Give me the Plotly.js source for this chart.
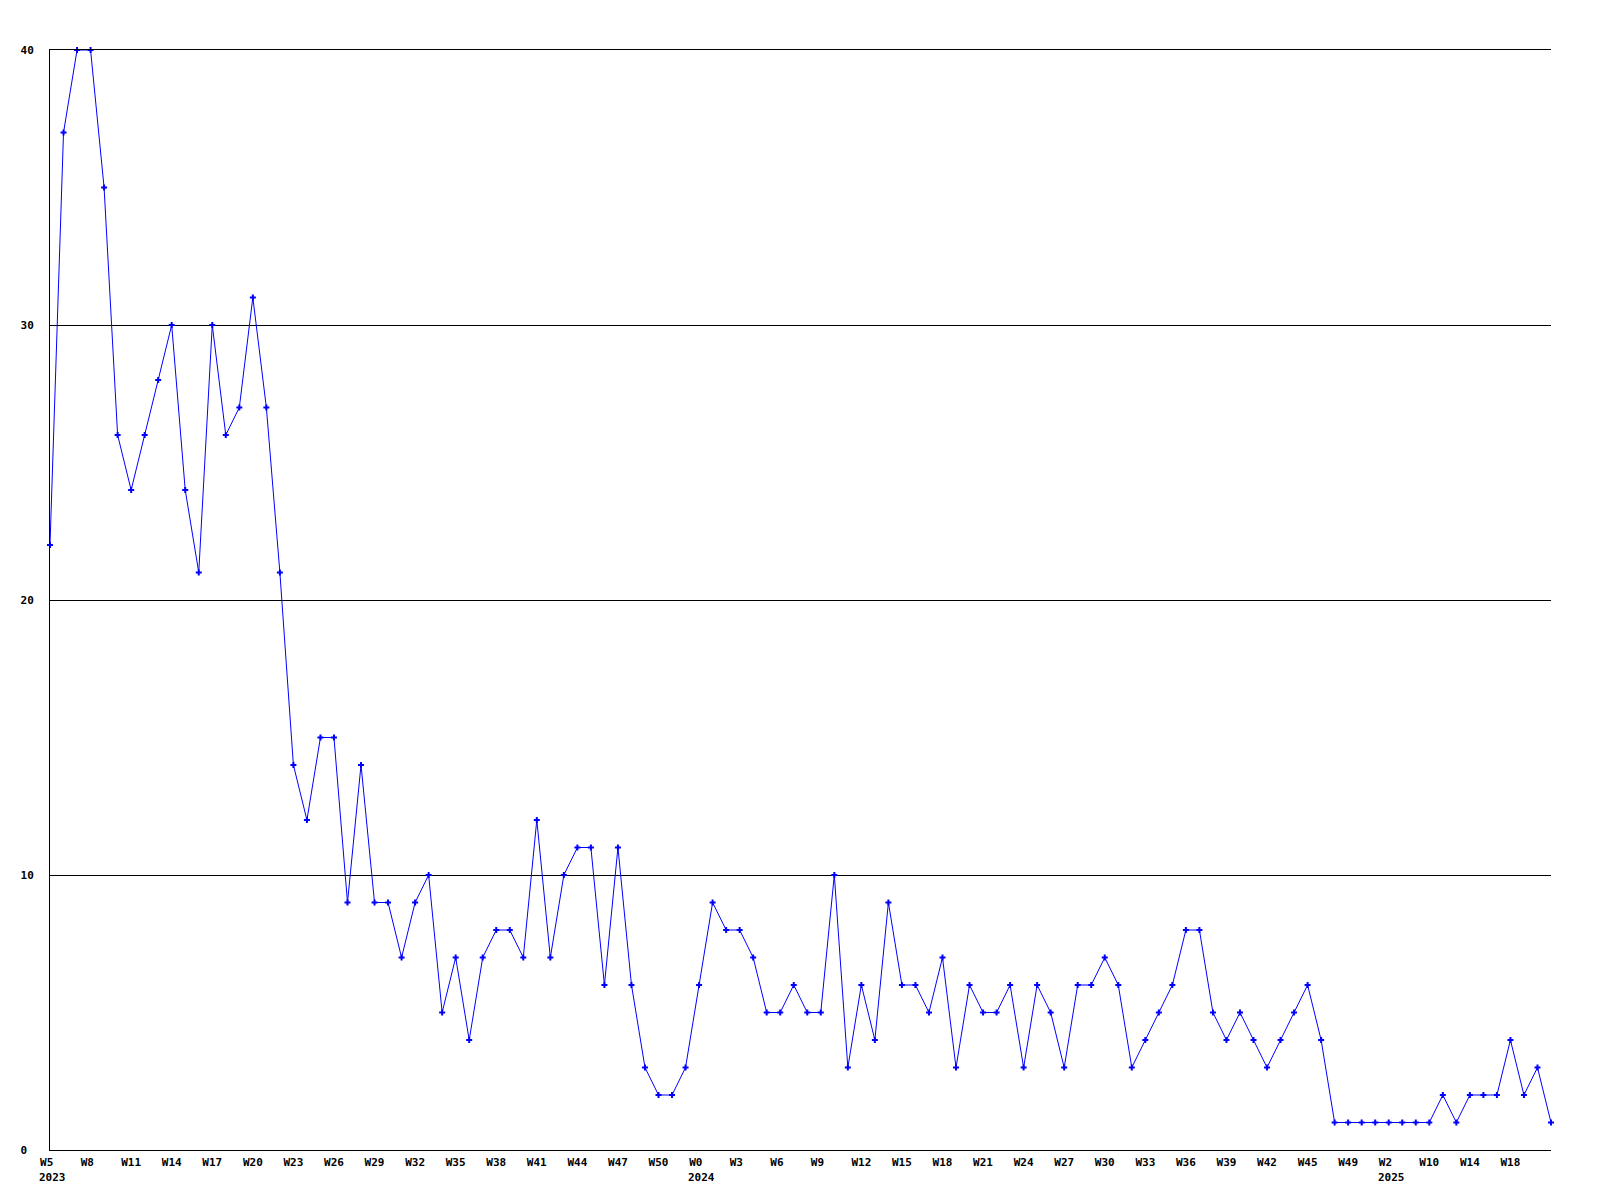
<!DOCTYPE html>
<html>
<head>
<meta charset="utf-8">
<script src="https://cdn.plot.ly/plotly-3.0.1.min.js"></script>
<style>
  html, body { margin: 0; padding: 0; background: #ffffff; }
  #chart { width: 1600px; height: 1200px; }
</style>
</head>
<body>
<div id="chart"></div>
<script>
// Weekly counts, one per week point (112 points, 2023 W5 .. 2025)
const values = [
  22, 37, 40, 40, 35, 26, 24, 26, 28, 30,
  24, 21, 30, 26, 27, 31, 27, 21, 14, 12,
  15, 15, 9, 14, 9, 9, 7, 9, 10, 5,
  7, 4, 7, 8, 8, 7, 12, 7, 10, 11,
  11, 6, 11, 6, 3, 2, 2, 3, 6, 9,
  8, 8, 7, 5, 5, 6, 5, 5, 10, 3,
  6, 4, 9, 6, 6, 5, 7, 3, 6, 5,
  5, 6, 3, 6, 5, 3, 6, 6, 7, 6,
  3, 4, 5, 6, 8, 8, 5, 4, 5, 4,
  3, 4, 5, 6, 4, 1, 1, 1, 1, 1,
  1, 1, 1, 2, 1, 2, 2, 2, 4, 2,
  3, 1
];

// Visible tick labels (every 3rd point)
const tickLabels = [
  "W5", "W8", "W11", "W14", "W17", "W20", "W23", "W26", "W29", "W32",
  "W35", "W38", "W41", "W44", "W47", "W50", "W0", "W3", "W6", "W9",
  "W12", "W15", "W18", "W21", "W24", "W27", "W30", "W33", "W36", "W39",
  "W42", "W45", "W49", "W2", "W10", "W14", "W18"
];

// Year labels and the tick label they sit under
const yearLabels = ["2023", "2024", "2025"];
const yearTickIndex = [0, 16, 33];

const yTickVals = [0, 10, 20, 30, 40];

const N = values.length;
const xIdx = values.map((_, i) => i);
const tickStep = 3;
const tickVals = tickLabels.map((_, i) => i * tickStep);
const pad = (s, n) => { while (s.length < n) s += "\u00a0"; return s; };
const tickText = tickLabels.map(s => pad(s, 3));

const fontFamily = '"DejaVu Sans Mono", "Liberation Mono", monospace';

const trace = {
  type: 'scatter',
  mode: 'lines+markers',
  x: xIdx,
  y: values,
  line: { color: '#0000ff', width: 1 },
  marker: { color: '#0000ff', symbol: 'cross', size: 5 },
  cliponaxis: false,
  hoverinfo: 'x+y'
};

const annotations = yearLabels.map((t, k) => ({
  text: t,
  x: tickVals[yearTickIndex[k]],
  xref: 'x',
  xanchor: 'left',
  xshift: -13,
  y: 0,
  yref: 'paper',
  yanchor: 'middle',
  yshift: -27,
  showarrow: false,
  font: { family: fontFamily, size: 11, color: '#000000', weight: 'bold' }
}));

const layout = {
  width: 1600,
  height: 1200,
  paper_bgcolor: '#ffffff',
  plot_bgcolor: '#ffffff',
  margin: { l: 50, r: 49, t: 50, b: 50, pad: 0 },
  showlegend: false,
  xaxis: {
    range: [0, N - 1],
    tickmode: 'array',
    tickvals: tickVals,
    ticktext: tickText,
    showgrid: false,
    zeroline: false,
    showline: true,
    mirror: true,
    linecolor: '#000000',
    linewidth: 1,
    ticks: '',
    ticklabelstandoff: 2,
    tickangle: 0,
    tickfont: { family: fontFamily, size: 11, color: '#000000', weight: 'bold' }
  },
  yaxis: {
    range: [0, 40],
    tickmode: 'array',
    tickvals: yTickVals,
    ticktext: yTickVals.map(v => pad(String(v), 2)),
    showgrid: true,
    gridcolor: '#000000',
    gridwidth: 1,
    zeroline: false,
    showline: true,
    linecolor: '#000000',
    linewidth: 1,
    ticks: '',
    ticklabelstandoff: 13,
    tickfont: { family: fontFamily, size: 11, color: '#000000', weight: 'bold' }
  },
  annotations: annotations
};

Plotly.newPlot('chart', [trace], layout, { staticPlot: true, displayModeBar: false });
</script>
</body>
</html>
